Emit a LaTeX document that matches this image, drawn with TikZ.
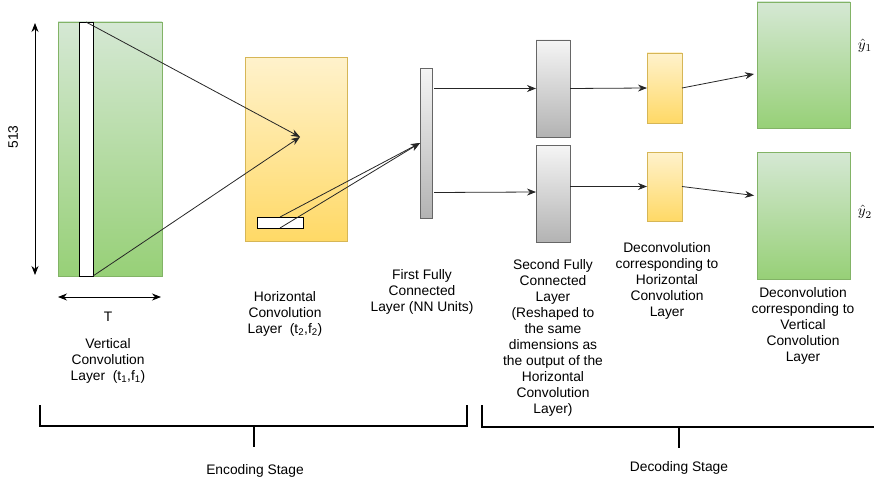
\documentclass[tikz,border=0pt]{standalone}
\usepackage{fontspec}
\setmainfont{Liberation Sans}
\usetikzlibrary{arrows.meta,calc}

\definecolor{greenTop}{HTML}{D5E8D4}
\definecolor{greenBot}{HTML}{97D077}
\definecolor{greenEdge}{HTML}{82B366}
\definecolor{yellowTop}{HTML}{FFF2CC}
\definecolor{yellowBot}{HTML}{FFD966}
\definecolor{yellowEdge}{HTML}{D6B656}
\definecolor{grayTop}{HTML}{F5F5F5}
\definecolor{grayBot}{HTML}{B3B3B3}
\definecolor{grayEdge}{HTML}{666666}

\tikzset{
    layer/.style={rectangle, inner sep=0pt, outer sep=0pt, line width=0.7pt},
    greenlayer/.style={layer, draw=greenEdge, top color=greenTop, bottom color=greenBot},
    yellowlayer/.style={layer, draw=yellowEdge, top color=yellowTop, bottom color=yellowBot},
    graylayer/.style={layer, draw=grayEdge, top color=grayTop, bottom color=grayBot},
    filterbox/.style={layer, draw=black, fill=white, line width=0.8pt},
    conn/.style={line width=0.8pt, draw=black!85, -{Stealth[length=9pt,width=7pt]}},
    dimline/.style={line width=0.8pt, {Stealth[length=9pt,width=7pt]}-{Stealth[length=9pt,width=7pt]}},
    bracket/.style={line width=1.3pt},
    lbl/.style={align=center, font=\fontsize{13.8}{16}\selectfont},
    outname/.style={scale=1.5},
}

\begin{document}
\begin{tikzpicture}[x=1pt, y=-1pt]
    \useasboundingbox (0,0) rectangle (874,487);

    % encoder
    \node[greenlayer, minimum width=104, minimum height=254] (vconv) at (110,149) {};
    \node[filterbox, minimum width=14, minimum height=254] (vbar) at (86,149) {};
    \node[yellowlayer, minimum width=102, minimum height=184] (hconv) at (296,149) {};
    \node[filterbox, minimum width=46, minimum height=11] (hbar) at (280,222.5) {};
    \node[graylayer, minimum width=12, minimum height=150] (fcone) at (426,143) {};

    % decoder
    \node[graylayer, minimum width=34, minimum height=97] (fctwoa) at (553,88.5) {};
    \node[graylayer, minimum width=34, minimum height=97] (fctwob) at (553,193.5) {};
    \node[yellowlayer, minimum width=35, minimum height=70] (deconva) at (664.5,88) {};
    \node[yellowlayer, minimum width=35, minimum height=69] (deconvb) at (664.5,186.5) {};
    \node[greenlayer, minimum width=93, minimum height=126] (outa) at (803.5,65) {};
    \node[greenlayer, minimum width=93, minimum height=127] (outb) at (803.5,215.5) {};

    % connectors
    \coordinate (hfocus) at (300,137);
    \draw[conn] (vbar.north) -- (hfocus);
    \draw[conn] (vbar.south east) -- (hfocus);
    \draw[conn] (hbar.north) -- (fcone.west);
    \draw[conn] (hbar.south) -- (fcone.west);
    \draw[conn] ($(fcone.east |- fctwoa)+(2,0)$) -- (fctwoa.west);
    \draw[conn] ($(fcone.east |- fctwob)+(2,-1)$) -- (fctwob.west |- 0,192);
    \draw[conn] (fctwoa.east) -- (deconva.west);
    \draw[conn] (fctwob.east |- deconvb) -- (deconvb.west);
    \draw[conn] (deconva.east) -- ($(outa.west)+(-3,9)$);
    \draw[conn] (deconvb.east) -- ($(outb.west)+(-3,-20)$);

    % dimensions
    \coordinate (dimtop) at (35,23);
    \coordinate (dimbot) at (35,275);
    \draw[dimline] (dimtop) -- (dimbot);
    \node[lbl, rotate=90] (freqdim) at (13,137) {513};
    \coordinate (tleft) at (58,297);
    \coordinate (tright) at (161,297);
    \draw[dimline] (tleft) -- (tright);
    \node[lbl] (timedim) at (108,317) {T};

    % labels
    \node[lbl] (vlabel) at (108,361) {Vertical\\Convolution\\Layer~ (t\textsubscript{1},f\textsubscript{1})};
    \node[lbl] (hlabel) at (285,314) {Horizontal\\Convolution\\Layer~ (t\textsubscript{2},f\textsubscript{2})};
    \node[lbl] (fconelabel) at (422,292) {First Fully\\Connected\\Layer (NN Units)};
    \node[lbl] (fctwolabel) at (553,337.5) {Second Fully\\Connected\\Layer\\(Reshaped to\\the same\\dimensions as\\the output of the\\Horizontal\\Convolution\\Layer)};
    \node[lbl] (deconvlabel) at (667,281) {Deconvolution\\corresponding to\\Horizontal\\Convolution\\Layer};
    \node[lbl] (outlabel) at (803,325.5) {Deconvolution\\corresponding to\\Vertical\\Convolution\\Layer};
    \node[outname] (yone) at (865,46) {$\hat{y}_1$};
    \node[outname] (ytwo) at (865,212) {$\hat{y}_2$};

    % stages
    \coordinate (encl) at (40,405);
    \coordinate (encr) at (467,405);
    \coordinate (enct) at (254,426);
    \draw[bracket] (encl) |- (encr |- enct) -- (encr);
    \draw[bracket] (enct) -- ++(0,21);
    \node[lbl] (enclabel) at (255,471) {Encoding Stage};
    \coordinate (decl) at (482,405);
    \coordinate (decr) at (880,427);
    \coordinate (dect) at (679,427);
    \draw[bracket] (decl) |- (decr);
    \draw[bracket] (dect) -- ++(0,21);
    \node[lbl] (declabel) at (679,468) {Decoding Stage};
\end{tikzpicture}
\end{document}
